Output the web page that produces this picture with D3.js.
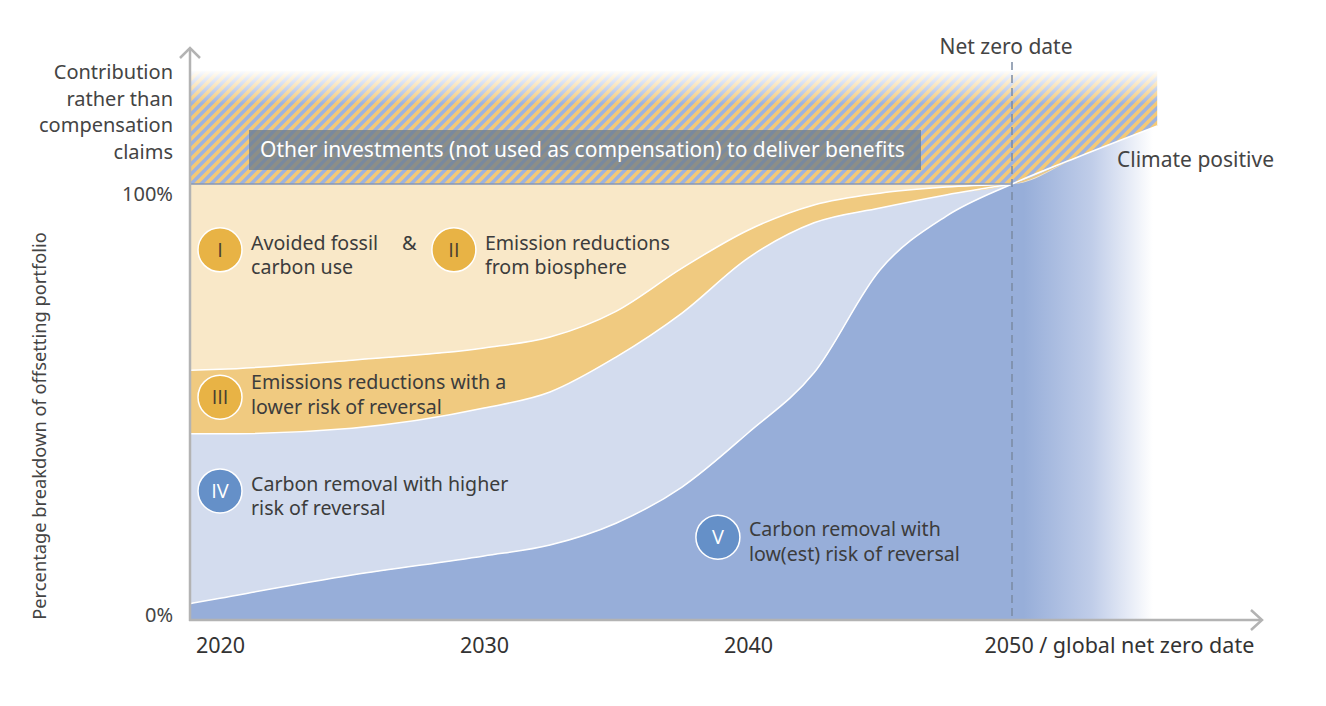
<!DOCTYPE html>
<html>
<head>
<meta charset="utf-8">
<script src="https://cdn.jsdelivr.net/npm/d3@7"></script>
<style>
  body { margin: 0; background: #fff; }
  text { font-family: "Noto Sans", "Open Sans", sans-serif; }
</style>
</head>
<body>
<div id="chart"></div>
<script>
// years along the x axis (first value = left edge of the chart)
const years = [2018.9, 2020, 2025, 2030, 2032.5, 2035, 2037.5, 2040, 2042.5, 2045, 2047.5, 2050, 2052.5, 2055.5];
// shares of the offsetting portfolio (%), stacked bottom to top
const lowRiskRemoval      = [3.8, 5.0, 10.3, 14.7, 17.2, 22.2, 30.5, 42.9, 56.7, 80.3, 92.6, 100, 106.2, 113.3]; // V
const highRiskRemoval     = [38.9, 37.7, 33.7, 33.9, 35.1, 38.1, 39.9, 40.1, 34.4, 14.2, 4.9, 0, 0, 0];           // IV
const lowerRiskReductions = [14.6, 14.8, 15.6, 13.8, 12.6, 10.5, 10.3, 6.4, 4.1, 3.4, 1.8, 0, 0, 0];              // III
const avoidedBiosphere    = [42.7, 42.5, 40.4, 37.6, 35.1, 29.2, 19.3, 10.6, 4.8, 2.1, 0.7, 0, 0, 0];             // I & II
const contributionTop = 126; // top of the hatched "contribution" band (%)
const netZeroYear = 2050;

const xTicks = [2020, 2030, 2040, 2050];
const yTicks = [0, 100];
const yLabelLines = ["Contribution", "rather than", "compensation", "claims"];
const boxLabel = "Other investments (not used as compensation) to deliver benefits";

// annotation markers
const markers = [
    { n: "I",   year: 2020,    pct: 84.9, lines: ["Avoided fossil", "carbon use"], kind: "o", dy: -7 },
    { n: "II",  year: 2028.86, pct: 84.9, lines: ["Emission reductions", "from biosphere"], kind: "o", dy: -7 },
    { n: "III", year: 2020,    pct: 51.1, lines: ["Emissions reductions with a", "lower risk of reversal"], kind: "o", dy: -15 },
    { n: "IV",  year: 2020,    pct: 29.6, lines: ["Carbon removal with higher", "risk of reversal"], kind: "b", dy: -7 },
    { n: "V",   year: 2038.86, pct: 19.0, lines: ["Carbon removal with", "low(est) risk of reversal"], kind: "b", dy: -8 }
];

const width = 1326, height = 706;
const keys = ["low", "high", "lower", "avoided"];
const colors = { low: "#97aed9", high: "#d3dcee", lower: "#f0ca80", avoided: "#f9e8c8" };
const rows = years.map((yr, i) => ({
    year: yr, low: lowRiskRemoval[i], high: highRiskRemoval[i],
    lower: lowerRiskReductions[i], avoided: avoidedBiosphere[i]
}));

const svg = d3.select("#chart").append("svg")
    .attr("width", width).attr("height", height);

const x = d3.scaleLinear().domain([2020, 2050]).range([220, 1012]);
const y = d3.scaleLinear().domain([0, 100]).range([620, 184]);
const x0 = x(years[0]), xEnd = x(years[years.length - 1]);

const defs = svg.append("defs");
// hatch pattern, "/" stripes
const pat = defs.append("pattern").attr("id", "hatch")
    .attr("patternUnits", "userSpaceOnUse")
    .attr("width", 10).attr("height", 10);
pat.append("rect").attr("width", 10).attr("height", 10).attr("fill", "#9db3df");
pat.append("path")
    .attr("d", "M-2.5,2.5L2.5,-2.5M0,10L10,0M7.5,12.5L12.5,7.5")
    .attr("stroke", "#f4c977").attr("stroke-width", 3.7);

// fade on top of the hatched band
const topFade = defs.append("linearGradient").attr("id", "topFade")
    .attr("x1", 0).attr("x2", 0).attr("y1", 0).attr("y2", 1);
topFade.append("stop").attr("offset", 0).attr("stop-color", "#fff").attr("stop-opacity", 1);
topFade.append("stop").attr("offset", 1).attr("stop-color", "#fff").attr("stop-opacity", 0);

// fade of the climate positive area
const sideFade = defs.append("linearGradient").attr("id", "sideFade")
    .attr("gradientUnits", "userSpaceOnUse")
    .attr("x1", x(netZeroYear)).attr("x2", xEnd).attr("y1", 0).attr("y2", 0);
sideFade.append("stop").attr("offset", 0.08).attr("stop-color", colors.low);
sideFade.append("stop").attr("offset", 0.55).attr("stop-color", "#c0cde9");
sideFade.append("stop").attr("offset", 0.97).attr("stop-color", "#ffffff");

// hatched contribution band
const hatchArea = d3.area()
    .x(d => x(d.year))
    .y0(d => y(Math.max(100, d.low)))
    .y1(y(contributionTop));
svg.append("path").datum(rows).attr("d", hatchArea).attr("fill", "url(#hatch)");
svg.append("rect")
    .attr("x", x0).attr("y", y(contributionTop) - 1)
    .attr("width", xEnd - x0 + 2).attr("height", 34)
    .attr("fill", "url(#topFade)");

// stacked portfolio
const stack = d3.stack().keys(keys)(rows);
const area = d3.area().curve(d3.curveMonotoneX)
    .x(d => x(d.data.year)).y0(d => y(d[0])).y1(d => y(d[1]));
svg.selectAll(".band").data(stack).enter().append("path")
    .attr("class", "band")
    .attr("d", area)
    .attr("fill", d => d.key === "low" ? "url(#sideFade)" : colors[d.key]);

// white boundaries
const line = d3.line().curve(d3.curveMonotoneX)
    .x(d => x(d.data.year)).y(d => y(d[1]));
svg.selectAll(".edge").data(stack.slice(0, 3)).enter().append("path")
    .attr("class", "edge")
    .attr("d", d => line(d.key === "low" ? d : d.filter(p => p.data.year <= netZeroYear)))
    .attr("fill", "none").attr("stroke", "#fff").attr("stroke-width", 1.5);

// 100% line
svg.append("line")
    .attr("x1", x0).attr("x2", x(netZeroYear))
    .attr("y1", y(100)).attr("y2", y(100))
    .attr("stroke", "#8797b4").attr("stroke-width", 1.3);

// label box over the hatch
svg.append("rect")
    .attr("x", 249).attr("y", 130).attr("width", 672).attr("height", 40)
    .attr("fill", "#6f7d8c").attr("opacity", 0.78);
svg.append("text")
    .attr("x", 260).attr("y", 150).attr("dy", "0.35em")
    .attr("fill", "#fff").style("font-size", "21px")
    .text(boxLabel);

// net zero line
svg.append("line")
    .attr("x1", x(netZeroYear)).attr("x2", x(netZeroYear))
    .attr("y1", 62).attr("y2", 620)
    .attr("stroke", "#7b8aa2").attr("stroke-width", 1.5)
    .attr("stroke-dasharray", "8,5");
svg.append("text")
    .attr("x", x(netZeroYear) - 6).attr("y", 47).attr("dy", "0.35em")
    .attr("text-anchor", "middle").attr("fill", "#444").style("font-size", "21px")
    .text("Net zero date");
svg.append("text")
    .attr("x", 1117).attr("y", 160).attr("dy", "0.35em")
    .attr("fill", "#444").style("font-size", "21px")
    .text("Climate positive");

// axes
const axisColor = "#b3b3b3";
svg.append("line").attr("x1", 190).attr("x2", 190).attr("y1", 48).attr("y2", 621)
    .attr("stroke", axisColor).attr("stroke-width", 2.5);
svg.append("path").attr("d", "M180,58L190,48L200,58").attr("fill", "none")
    .attr("stroke", axisColor).attr("stroke-width", 2.5);
svg.append("line").attr("x1", 189).attr("x2", 1262).attr("y1", 620).attr("y2", 620)
    .attr("stroke", axisColor).attr("stroke-width", 2.5);
svg.append("path").attr("d", "M1251,610L1262,620L1251,630").attr("fill", "none")
    .attr("stroke", axisColor).attr("stroke-width", 2.5);

const xAxis = svg.append("g")
    .attr("transform", "translate(0,635)")
    .call(d3.axisBottom(x).tickValues(xTicks).tickSize(0)
        .tickFormat(d => d === netZeroYear ? "2050 / global net zero date" : d));
xAxis.select(".domain").remove();
xAxis.selectAll("text")
    .attr("fill", "#333").style("font-size", "21.5px")
    .attr("font-family", null)
    .attr("dy", "0.71em");
xAxis.selectAll("text").filter(d => d === netZeroYear)
    .attr("text-anchor", "start").attr("x", -28);

const yAxis = svg.append("g")
    .attr("transform", "translate(190,0)")
    .call(d3.axisLeft(y).tickValues(yTicks).tickSize(0).tickPadding(17)
        .tickFormat(d => d + "%"));
yAxis.select(".domain").remove();
yAxis.selectAll("text")
    .attr("fill", "#444").style("font-size", "20px")
    .attr("font-family", null)
    .attr("dy", d => d === 100 ? "0.8em" : "0.05em");

svg.append("g").selectAll("text").data(yLabelLines).enter().append("text")
    .attr("x", 173).attr("y", (d, i) => 72 + i * 26.5).attr("dy", "0.35em")
    .attr("text-anchor", "end").attr("fill", "#444").style("font-size", "20px")
    .text(d => d);

svg.append("text")
    .attr("transform", "rotate(-90)")
    .attr("x", -426).attr("y", 40).attr("dy", "0.35em")
    .attr("text-anchor", "middle").attr("fill", "#444").style("font-size", "18.3px")
    .text("Percentage breakdown of offsetting portfolio");

// numbered markers
const mk = svg.append("g").selectAll("g").data(markers).enter().append("g")
    .attr("transform", d => `translate(${x(d.year)},${y(d.pct)})`);
mk.append("circle").attr("r", 22)
    .attr("fill", d => d.kind === "o" ? "#e8b345" : "#6590c8")
    .attr("stroke", "#fff").attr("stroke-width", 1.5);
mk.append("text").attr("text-anchor", "middle").attr("dy", "0.36em")
    .attr("fill", d => d.kind === "o" ? "#4a4030" : "#fff")
    .style("font-family", "'Open Sans', 'DejaVu Sans', sans-serif")
    .style("font-size", "20px")
    .text(d => d.n);
mk.each(function(d) {
    const g = d3.select(this);
    d.lines.forEach((t, i) => {
        g.append("text").attr("x", 31).attr("y", d.dy + i * 24.5).attr("dy", "0.35em")
            .attr("fill", "#3c3c3c").style("font-size", "19.6px").text(t);
    });
});
svg.append("text")
    .attr("x", 402).attr("y", 243).attr("dy", "0.35em")
    .attr("fill", "#3c3c3c").style("font-size", "20px").text("&");
</script>
</body>
</html>
